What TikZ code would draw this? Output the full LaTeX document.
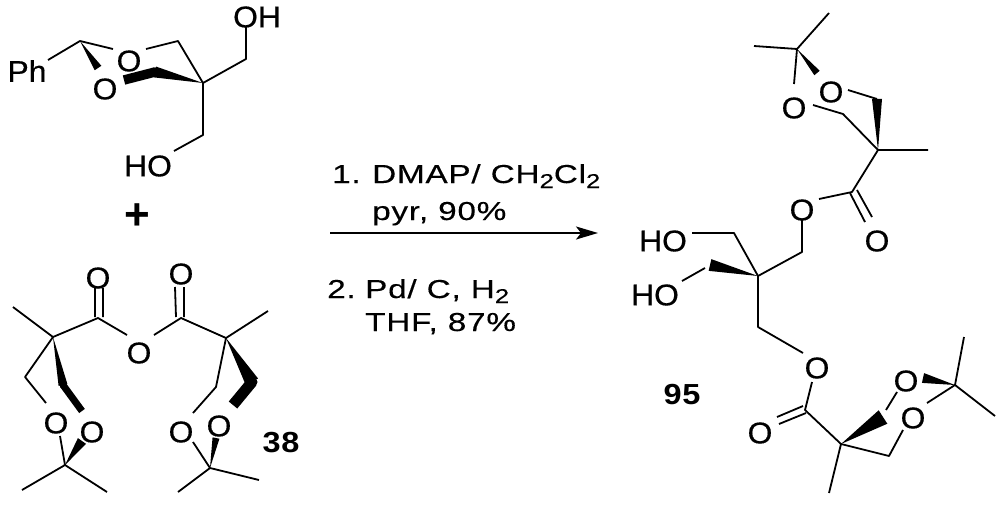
\documentclass[tikz,border=0pt]{standalone}
\usepackage{fontspec}
\usetikzlibrary{calc,arrows.meta}
\setmainfont[FakeStretch=1.06,FakeBold=0.4]{Liberation Sans}
\newfontfamily\cmpdfont[FakeStretch=1.12,LetterSpace=3]{Liberation Sans Bold}
\newfontfamily\plusfont{Liberation Sans Bold}
\newfontfamily\rgfont[FakeStretch=1.28,LetterSpace=3,FakeBold=0.3]{Liberation Sans}
\newcommand{\lowtwo}{\raisebox{-5pt}{\fontsize{20}{20}\selectfont 2}}
\newcommand{\wedgeb}[3]{\fill ($(#1)$) -- ($(#2)!#3pt!90:(#1)$) -- ($(#2)!#3pt!-90:(#1)$) -- cycle;}
\tikzset{
  bond/.style={line width=1.8pt,line join=round,line cap=butt},
  boldb/.style={line width=#1,line cap=butt,line join=round},
  atom/.style={font=\fontsize{30}{30}\selectfont,inner sep=0pt},
  cmpd/.style={font=\fontsize{29}{29}\cmpdfont,inner sep=0pt},
  reag/.style={font=\fontsize{26}{26}\rgfont,anchor=base west,inner sep=0pt},
}
\begin{document}
\begin{tikzpicture}[x=1pt,y=-1pt]
\useasboundingbox (0,0) rectangle (1000,506);
\fill[white] (0,0) rectangle (1000,506);

% --- benzylidene diol, top left
\node[atom] (ph) at (27,71) {Ph};
\node[atom] (oa) at (129,61) {O};
\node[atom] (ob) at (105,89) {O};
\node[atom] (oh1) at (257,17) {OH};
\node[atom] (ho1) at (148,166) {HO};
\coordinate (a1) at (80,41);
\coordinate (a1ph) at (48,60);
\coordinate (a1o) at (113,49);
\coordinate (a2o) at (146,49);
\coordinate (a2) at (178,41);
\coordinate (aq) at (203,83);
\coordinate (a3) at (246,59);
\coordinate (a3o) at (246,27);
\coordinate (a4) at (203,135);
\coordinate (a4o) at (174,151);
\coordinate (a5) at (80,41);
\coordinate (a5o) at (98,68);
\coordinate (a6) at (155,72);
\coordinate (a6o) at (124,80);
\draw[bond] (a1ph) -- (a1) -- (a1o);
\draw[bond] (a2o) -- (a2) -- (aq) -- (a3) -- (a3o);
\draw[bond] (aq) -- (a4) -- (a4o);
\wedgeb{a5}{a5o}{4}
\wedgeb{aq}{a6}{5.5}
\fill (a6) circle (4.75pt);
\draw[boldb=9.5pt] (a6) -- (a6o);
\node[font=\fontsize{44}{44}\plusfont,inner sep=0pt] (plus) at (137,217) {+};

% --- anhydride 38
\node[atom] (oc) at (98,278) {O};
\node[atom] (od) at (181,274) {O};
\node[atom] (oe) at (139,353) {O};
\node[atom] (of) at (56,423) {O};
\node[atom] (og) at (92,432) {O};
\node[atom] (oi) at (181,432) {O};
\node[atom] (oj) at (219,426) {O};
\node[cmpd] (n38) at (281,443) {38};
\coordinate (b1) at (98,318);
\coordinate (b2) at (181,318);
\coordinate (bql) at (53,337);
\coordinate (bqr) at (226,338);
\coordinate (bml) at (13,307);
\coordinate (bmr) at (268,311);
\coordinate (b1o) at (127,335);
\coordinate (b2o) at (154,335);
\coordinate (c1a) at (95,317);\coordinate (c1b) at (95,288);
\coordinate (c2a) at (103,317);\coordinate (c2b) at (103,288);
\coordinate (c3a) at (176,317);\coordinate (c3b) at (175,287);
\coordinate (c4a) at (184,317);\coordinate (c4b) at (184,287);
\coordinate (b3) at (25,377);
\coordinate (b3o) at (46,403);
\coordinate (b4) at (63,385);
\coordinate (b4o) at (82,411);
\coordinate (b5) at (65,465);
\coordinate (b5o) at (60,436);
\coordinate (b5w) at (82,441);
\coordinate (b5l) at (22,490);
\coordinate (b5r) at (107,492);
\coordinate (b6) at (216,387);
\coordinate (b6o) at (193,413);
\coordinate (b7) at (252,382);
\coordinate (b7o) at (233,405);
\coordinate (b8) at (210,468);
\coordinate (b8o) at (193,442);
\coordinate (b8w) at (216,438);
\coordinate (b8l) at (178,492);
\coordinate (b8r) at (259,480);
\draw[bond] (c1a) -- (c1b) (c2a) -- (c2b) (c3a) -- (c3b) (c4a) -- (c4b);
\draw[bond] (bml) -- (bql) -- (b1) -- (b1o);
\draw[bond] (b2o) -- (b2) -- (bqr) -- (bmr);
\draw[bond] (bql) -- (b3) -- (b3o);
\wedgeb{bql}{b4}{4.5}
\fill (b4) circle (3.5pt);
\draw[boldb=7pt] (b4) -- (b4o);
\draw[bond] (b5o) -- (b5) (b5l) -- (b5) -- (b5r);
\wedgeb{b5}{b5w}{5}
\draw[bond] (bqr) -- (b6) -- (b6o);
\wedgeb{bqr}{b7}{7}
\fill (b7) circle (5.5pt);
\draw[boldb=11pt] (b7) -- (b7o);
\draw[bond] (b8o) -- (b8) (b8l) -- (b8) -- (b8r);
\wedgeb{b8}{b8w}{3.5}

% --- reaction arrow and conditions
\coordinate (ar1) at (330,233);
\coordinate (ar2) at (598,233);
\draw[line width=1.6pt,-{Stealth[length=22pt,width=13pt,inset=5pt]}] (ar1) -- (ar2);
\node[reag] (r1) at (332,183) {\makebox[40pt][l]{1.}DMAP/ CH\lowtwo Cl\lowtwo};
\node[reag] (r2) at (372,220) {pyr, 90\%};
\node[reag] (r3) at (327,298) {\makebox[38pt][l]{2.}Pd/ C, H\lowtwo};
\node[reag] (r4) at (365,331) {THF, 87\%};

% --- product 95
\node[atom] (ok) at (794,108) {O};
\node[atom] (ol) at (831,92) {O};
\node[atom] (om) at (802,210) {O};
\node[atom] (on) at (877,241) {O};
\node[atom] (ho2) at (663,241) {HO};
\node[atom] (ho3) at (655,295) {HO};
\node[atom] (oo) at (817,368) {O};
\node[atom] (op) at (760,433) {O};
\node[atom] (oq) at (906,381) {O};
\node[atom] (or) at (913,418) {O};
\node[cmpd] (n95) at (682,395) {95};
\coordinate (d1) at (797,49);
\coordinate (d1a) at (829,13);
\coordinate (d1b) at (754,46);
\coordinate (d1o) at (794,84);
\coordinate (d1w) at (817,73);
\coordinate (d2o) at (848,90);
\coordinate (d2) at (877,99);
\coordinate (dq) at (878,150);
\coordinate (d3o) at (813,105);
\coordinate (d3) at (843,114);
\coordinate (dm) at (928,150);
\coordinate (d4) at (852,192);
\coordinate (d4o) at (819,199);
\coordinate (e1a) at (850,193);\coordinate (e1b) at (865,222);
\coordinate (e2a) at (857,190);\coordinate (e2b) at (872,217);
\coordinate (d5o) at (802,220);
\coordinate (d5) at (802,252);
\coordinate (cq) at (758,276);
\coordinate (f1) at (734,233);
\coordinate (f1o) at (692,233);
\coordinate (f2w) at (710,265);
\coordinate (f2) at (705,268);
\coordinate (f2o) at (682,281);
\coordinate (g1) at (758,327);
\coordinate (g1o) at (803,353);
\coordinate (g2o) at (812,382);
\coordinate (g2) at (805,410);
\coordinate (h1a) at (777,417);\coordinate (h1b) at (803,406);
\coordinate (h2a) at (779,424);\coordinate (h2b) at (806,413);
\coordinate (gq) at (841,444);
\coordinate (gm) at (829,493);
\coordinate (g3w) at (883,417);
\coordinate (g3) at (886,410);
\coordinate (g3o) at (897,392);
\coordinate (g4) at (889,456);
\coordinate (g4o) at (903,430);
\coordinate (g5) at (955,385);
\coordinate (g5o) at (927,403);
\coordinate (g5w) at (923,378);
\coordinate (g5a) at (964,337);
\coordinate (g5b) at (995,416);
\draw[bond] (d1a) -- (d1) -- (d1b) (d1) -- (d1o);
\wedgeb{d1}{d1w}{3.5}
\draw[bond] (d2o) -- (d2);
\wedgeb{dq}{d2}{5}
\draw[bond] (d3o) -- (d3) -- (dq) -- (dm);
\draw[bond] (dq) -- (d4) -- (d4o);
\draw[bond] (e1a) -- (e1b) (e2a) -- (e2b);
\draw[bond] (d5o) -- (d5) -- (cq);
\draw[bond] (cq) -- (f1) -- (f1o);
\wedgeb{cq}{f2w}{6}
\draw[bond] (f2) -- (f2o);
\draw[bond] (cq) -- (g1) -- (g1o);
\draw[bond] (g2o) -- (g2) -- (gq) -- (gm);
\draw[bond] (h1a) -- (h1b) (h2a) -- (h2b);
\wedgeb{gq}{g3w}{8}
\draw[bond] (g3) -- (g3o);
\draw[bond] (gq) -- (g4) -- (g4o);
\draw[bond] (g5o) -- (g5) (g5a) -- (g5) -- (g5b);
\wedgeb{g5}{g5w}{5}
\end{tikzpicture}
\end{document}
